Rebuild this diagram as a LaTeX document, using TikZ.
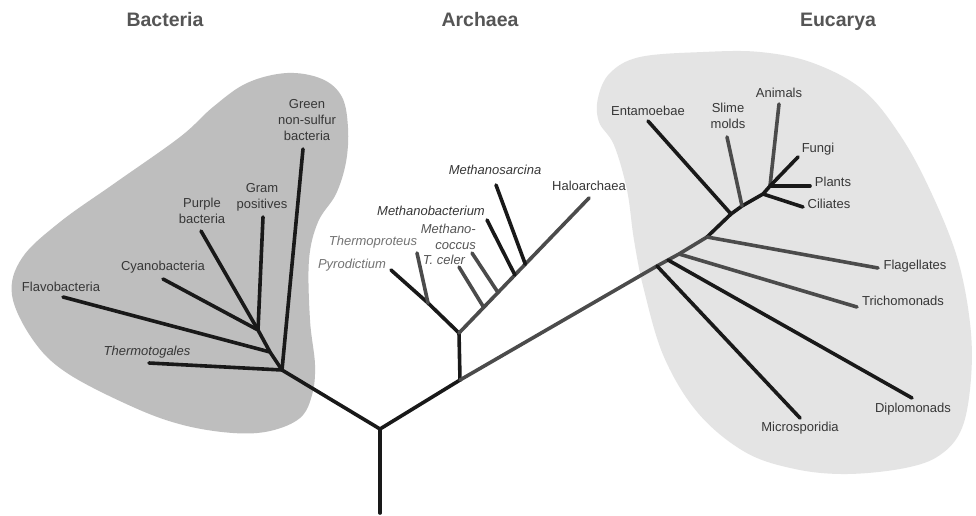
\documentclass[tikz,border=0pt]{standalone}
\usepackage{fontspec}
\setmainfont{Liberation Sans}
\usetikzlibrary{calc}
\definecolor{bactgray}{RGB}{190,190,190}
\definecolor{eucgray}{RGB}{228,228,228}
\definecolor{txtdark}{RGB}{55,55,55}
\definecolor{txtmid}{RGB}{85,85,85}
\definecolor{txtlight}{RGB}{115,115,115}
\definecolor{titlegray}{RGB}{85,85,85}
\definecolor{branchgray}{RGB}{75,75,75}

\begin{document}
\begin{tikzpicture}[x=1pt, y=-1pt,
        branch/.style={line width=3.6pt, line cap=round, black!90},
        greybranch/.style={branch, branchgray},
        lbl/.style={font=\fontsize{13}{16}\selectfont, text=txtdark, inner sep=0pt, align=center},
        ilbl/.style={lbl, font=\fontsize{13}{16}\selectfont\itshape},
        title/.style={font=\fontsize{19.5}{22}\selectfont\bfseries, text=titlegray, anchor=base}
    ]
        \useasboundingbox (0,0) rectangle (976,515);
        \fill[white] (0,0) rectangle (976,515);

        % Domain areas
        \fill[bactgray] plot[smooth cycle, tension=0.6] coordinates {
            (287,73) (322,79) (342,97) (348,128) (346,162) (336,194) (318,222)
            (309,260) (310,320) (315,365) (312,395) (300,418) (270,431) (233,433)
            (183,425) (133,407) (67,373) (33,340) (12,295) (22,258) (60,222)
            (115,183) (180,137) (213,107) (247,83)};
        \fill[eucgray] plot[smooth cycle, tension=0.6] coordinates {
            (640,57) (703,52) (760,52) (813,63) (863,90) (900,135) (930,190)
            (957,257) (970,323) (971,378) (962,428) (940,455) (905,468) (847,474)
            (795,469) (745,452) (698,413) (664,357) (644,290) (634,240) (627,190)
            (614,145) (599,122) (598,98) (610,73)};

        % Titles
        \node[title] (tiBac) at (165,26) {Bacteria};
        \node[title] (tiArc) at (480,26) {Archaea};
        \node[title] (tiEuc) at (838,26) {Eucarya};

        % Root
        \coordinate (base) at (380,513);
        \coordinate (root) at (380,429);
        \draw[branch] (base) -- (root);

        % Bacteria
        \coordinate (bac) at (282,370);
        \coordinate (bacF) at (270,352);
        \coordinate (bacC) at (258,330);
        \coordinate (tThermotogales) at (149,363);
        \coordinate (tGreen) at (303,149);
        \coordinate (tFlavo) at (63,297);
        \coordinate (tCyano) at (163,279);
        \coordinate (tPurple) at (201,231);
        \coordinate (tGram) at (263,217);
        \draw[branch] (root) -- (bac) -- (tThermotogales);
        \draw[branch] (bac) -- (tGreen);
        \draw[branch] (bac) -- (bacF) -- (bacC) -- (tCyano);
        \draw[branch] (bacF) -- (tFlavo);
        \draw[branch] (bacC) -- (tPurple);
        \draw[branch] (bacC) -- (tGram);

        \node[lbl] (lGreen) at (307,120) {Green\\non-sulfur\\bacteria};
        \node[lbl] (lGram) at (262,197) {Gram\\positives};
        \node[lbl] (lPurple) at (202,211) {Purple\\bacteria};
        \node[lbl] (lCyano) at (163,267) {Cyanobacteria};
        \node[lbl] (lFlavo) at (61,287) {Flavobacteria};
        \node[ilbl] (lThermotogales) at (147,352) {Thermotogales};

        % Archaea
        \coordinate (arc) at (460,380);
        \coordinate (arcTop) at (459,333);
        \coordinate (arcL) at (428,303);
        \coordinate (tPyro) at (391,270);
        \coordinate (tThermoproteus) at (417,253);
        \coordinate (tHalo) at (589,198);
        \coordinate (bCeler) at ($(arcTop)!0.19!(tHalo)$);
        \coordinate (bCoccus) at ($(arcTop)!0.30!(tHalo)$);
        \coordinate (bMbact) at ($(arcTop)!0.43!(tHalo)$);
        \coordinate (bSarcina) at ($(arcTop)!0.51!(tHalo)$);
        \coordinate (tCeler) at (459,267);
        \coordinate (tCoccus) at (472,253);
        \coordinate (tMbact) at (487,220);
        \coordinate (tSarcina) at (496,185);
        \draw[branch] (root) -- (arc) -- (arcTop) -- (arcL) -- (tPyro);
        \draw[greybranch] (arcL) -- (tThermoproteus);
        \draw[greybranch] (arcTop) -- (tHalo);
        \draw[greybranch] (bCeler) -- (tCeler);
        \draw[greybranch] (bCoccus) -- (tCoccus);
        \draw[branch] (bMbact) -- (tMbact);
        \draw[branch] (bSarcina) -- (tSarcina);

        \node[ilbl] (lSarcina) at (495,170) {Methanosarcina};
        \node[lbl] (lHalo) at (589,186) {Haloarchaea};
        \node[ilbl] (lMbact) at (431,211) {Methanobacterium};
        \node[ilbl, text=txtmid, align=right, anchor=east] (lCoccus) at (476,237) {Methano-\\coccus};
        \node[ilbl, text=txtmid] (lCeler) at (444,260) {T. celer};
        \node[ilbl, text=txtlight] (lThermoproteus) at (373,242) {Thermoproteus};
        \node[ilbl, text=txtlight] (lPyro) at (352,265) {Pyrodictium};

        % Eucarya
        \coordinate (eMic) at (657,266);
        \coordinate (eDip) at (668,260);
        \coordinate (eTri) at (679,254);
        \coordinate (eFla) at (707,237);
        \coordinate (eEnt) at (731,214);
        \coordinate (eSli) at (742,206);
        \coordinate (eCil) at (763,194);
        \coordinate (ePla) at (770,186);
        \coordinate (tMicro) at (800,418);
        \coordinate (tDiplo) at (912,398);
        \coordinate (tTricho) at (857,307);
        \coordinate (tFlag) at (878,268);
        \coordinate (tEnt) at (648,121);
        \coordinate (tSlime) at (727,137);
        \coordinate (tCil) at (803,207);
        \coordinate (tPlants) at (810,186);
        \coordinate (tFungi) at (798,157);
        \coordinate (tAnimals) at (779,104);
        \draw[greybranch] (arc) -- (eMic) -- (eDip) -- (eTri) -- (eFla);
        \draw[branch] (eFla) -- (eEnt) -- (eSli) -- (eCil) -- (ePla);
        \draw[greybranch] (ePla) -- (tAnimals);
        \draw[branch] (eMic) -- (tMicro);
        \draw[branch] (eDip) -- (tDiplo);
        \draw[greybranch] (eTri) -- (tTricho);
        \draw[greybranch] (eFla) -- (tFlag);
        \draw[branch] (eEnt) -- (tEnt);
        \draw[greybranch] (eSli) -- (tSlime);
        \draw[branch] (eCil) -- (tCil);
        \draw[branch] (ePla) -- (tPlants);
        \draw[branch] (ePla) -- (tFungi);

        \node[lbl] (lEnt) at (648,111) {Entamoebae};
        \node[lbl] (lSlime) at (728,116) {Slime\\molds};
        \node[lbl] (lAnimals) at (779,93) {Animals};
        \node[lbl] (lFungi) at (818,149) {Fungi};
        \node[lbl] (lPlants) at (833,182) {Plants};
        \node[lbl] (lCil) at (829,204) {Ciliates};
        \node[lbl] (lFlag) at (915,266) {Flagellates};
        \node[lbl] (lTricho) at (903,301) {Trichomonads};
        \node[lbl] (lDiplo) at (913,409) {Diplomonads};
        \node[lbl] (lMicro) at (800,428) {Microsporidia};
    \end{tikzpicture}
\end{document}
